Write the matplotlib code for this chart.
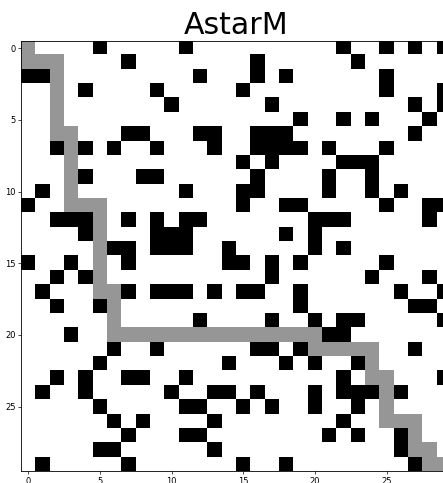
import numpy as np
import matplotlib
matplotlib.use('Agg')
import matplotlib.pyplot as plt
from matplotlib.colors import ListedColormap

size = 30

# blocked cells, one list of columns per row
obstacles = [
    [5, 11, 22, 25, 27, 29],
    [7, 16, 23],
    [0, 1, 12, 16, 18, 25],
    [4, 9, 15, 25, 29],
    [10, 17, 27, 29],
    [19, 22, 24, 28],
    [7, 8, 12, 13, 16, 17, 18, 27],
    [2, 4, 6, 9, 13, 16, 17, 18, 19, 21, 25],
    [15, 17, 22, 23, 24],
    [4, 8, 9, 16, 21, 24],
    [1, 11, 15, 16, 21, 24, 26],
    [0, 15, 18, 19, 25, 28, 29],
    [2, 3, 4, 7, 9, 11, 12, 20, 21, 22, 28],
    [4, 9, 10, 11, 18, 20],
    [6, 7, 9, 10, 11, 14, 20, 22],
    [0, 3, 7, 14, 15, 17, 19, 25],
    [2, 4, 17, 24, 28],
    [1, 7, 9, 10, 11, 13, 15, 16, 19, 26, 29],
    [2, 5, 19, 27, 28],
    [12, 17, 20, 22, 23, 29],
    [3, 21, 22],
    [6, 9, 16, 17, 19, 27],
    [5, 14, 18, 20, 23],
    [2, 4, 7, 8, 11, 22, 29],
    [1, 4, 10, 13, 14, 16, 20, 22, 23, 24, 26],
    [5, 11, 12, 15, 17, 20, 23],
    [6, 8, 13, 22],
    [7, 11, 12, 21, 23, 26],
    [5, 6, 13, 26],
    [1, 7, 15, 18, 27],
]

# cells found by A*
path = [
    (0, 0), (1, 0), (1, 1), (1, 2), (2, 2), (3, 2), (4, 2), (5, 2), (6, 2),
    (6, 3), (7, 3), (8, 3), (9, 3), (10, 3), (11, 3), (11, 4), (11, 5),
    (12, 5), (13, 5), (14, 5), (15, 5), (16, 5), (17, 5), (17, 6), (18, 6),
    (19, 6), (20, 6), (20, 7), (20, 8), (20, 9), (20, 10), (20, 11), (20, 12),
    (20, 13), (20, 14), (20, 15), (20, 16), (20, 17), (20, 18), (20, 19),
    (20, 20), (21, 20), (21, 21), (21, 22), (21, 23), (21, 24), (22, 24),
    (23, 24), (23, 25), (24, 25), (25, 25), (26, 25), (26, 26), (26, 27),
    (27, 27), (28, 27), (28, 28), (29, 28), (29, 29),
]

# 0 = wall, 1 = path, 2 = free
grid = np.full((size, size), 2)
for r, cols in enumerate(obstacles):
    for c in cols:
        grid[r, c] = 0
for r, c in path:
    grid[r, c] = 1

cmap = ListedColormap(['black', '#969696', 'white'])

fig = plt.figure(figsize=(4.43, 4.83), dpi=100)
# axes runs a bit past the right edge, like the reference
ax = fig.add_axes([21 / 443, 12 / 483, 430 / 443, 430 / 483])
ax.imshow(grid, cmap=cmap, vmin=0, vmax=2, interpolation='nearest')
ax.set_title('AstarM', fontsize=21.6, pad=5)
ax.tick_params(labelsize=6, length=2, width=0.5, pad=2)
for s in ax.spines.values():
    s.set_linewidth(0.6)

plt.savefig('out.png', dpi=100)
